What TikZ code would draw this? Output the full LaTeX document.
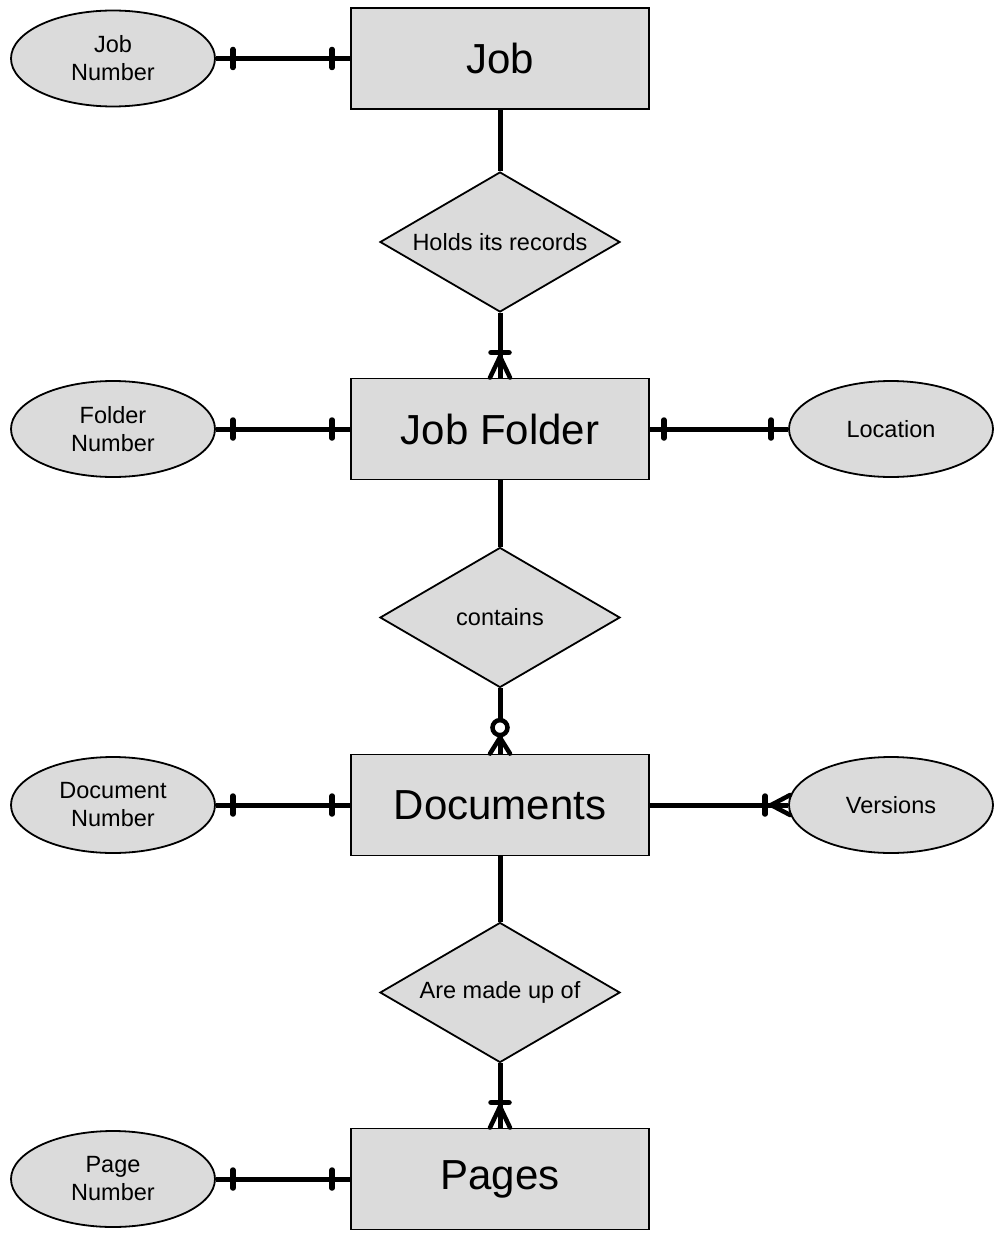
\documentclass[tikz,border=0pt]{standalone}
\usepackage{fontspec}
\setmainfont{Liberation Sans}
\usetikzlibrary{shapes.geometric,calc}
\begin{document}
\begin{tikzpicture}[x=1pt,y=-1pt,
 entity/.style={draw=black,line width=1.8pt,fill=black!14,minimum width=298pt,minimum height=101pt,inner sep=0pt,font=\fontsize{42}{50}\selectfont},
 attr/.style={ellipse,draw=black,line width=1.8pt,fill=black!14,minimum width=204pt,minimum height=96pt,inner sep=0pt,align=center,font=\fontsize{23.5}{28}\selectfont},
 rel/.style={diamond,draw=black,line width=1.8pt,fill=black!14,minimum width=240pt,minimum height=140pt,inner sep=0pt,aspect=1.714,font=\fontsize{23.5}{28}\selectfont},
 conn/.style={line width=5pt},
 tickmark/.style={line width=5.5pt,line cap=round},
 foot/.style={line width=4.5pt,line cap=round}]
\path[use as bounding box] (0,0) rectangle (994,1233);

% entities
\node[entity] (job) at (500,58.5) {Job};
\node[entity] (jf) at (500,429) {Job Folder};
\node[entity] (doc) at (500,805) {Documents};
\node[entity] (pg) at (500,1179) {Pages};

% relationships
\node[rel] (r1) at (500,242) {Holds its records};
\node[rel] (r2) at (500,617.5) {contains};
\node[rel] (r3) at (500,992.5) {Are made up of};

% attributes
\node[attr] (jn) at (113,58.5) {Job\\Number};
\node[attr] (fn) at (113,429) {Folder\\Number};
\node[attr] (loc) at (891,429) {Location};
\node[attr] (dn) at (113,805) {Document\\Number};
\node[attr] (ver) at (891,805) {Versions};
\node[attr] (pn) at (113,1179) {Page\\Number};

% attribute connectors (one-to-one)
\foreach \a/\e in {jn/job,fn/jf,dn/doc,pn/pg}{
  \draw[conn] (\a.east) -- (\e.west);
  \draw[tickmark] ($(\a.east)+(17,-9)$) -- ($(\a.east)+(17,9)$);
  \draw[tickmark] ($(\e.west)+(-18,-9)$) -- ($(\e.west)+(-18,9)$);
}
\draw[conn] (jf.east) -- (loc.west);
\draw[tickmark] ($(jf.east)+(14,-9)$) -- ($(jf.east)+(14,9)$);
\draw[tickmark] ($(loc.west)+(-17,-9)$) -- ($(loc.west)+(-17,9)$);

% Documents -- Versions (one-to-many)
\draw[conn] (doc.east) -- (ver.west);
\draw[tickmark] ($(ver.west)+(-23,-9)$) -- ($(ver.west)+(-23,9)$);
\draw[foot] ($(ver.west)+(-17,0)$) -- ($(ver.west)+(2,-10)$);
\draw[foot] ($(ver.west)+(-17,0)$) -- ($(ver.west)+(2,10)$);

% Job -- Holds its records -- Job Folder
\draw[conn] (job.south) -- (r1.north);
\draw[conn] (r1.south) -- (jf.north);
\draw[tickmark] ($(jf.north)+(-9,-25)$) -- ($(jf.north)+(9,-25)$);
\draw[foot] ($(jf.north)+(0,-21)$) -- ($(jf.north)+(-10,0)$);
\draw[foot] ($(jf.north)+(0,-21)$) -- ($(jf.north)+(10,0)$);

% Job Folder -- contains -- Documents
\draw[conn] (jf.south) -- (r2.north);
\draw[conn] (r2.south) -- (doc.north);
\draw[foot] ($(doc.north)+(0,-16)$) -- ($(doc.north)+(-10,0)$);
\draw[foot] ($(doc.north)+(0,-16)$) -- ($(doc.north)+(10,0)$);
\draw[line width=4.5pt,fill=white] ($(doc.north)+(0,-26)$) circle (7.5pt);

% Documents -- Are made up of -- Pages
\draw[conn] (doc.south) -- (r3.north);
\draw[conn] (r3.south) -- (pg.north);
\draw[tickmark] ($(pg.north)+(-9,-25)$) -- ($(pg.north)+(9,-25)$);
\draw[foot] ($(pg.north)+(0,-21)$) -- ($(pg.north)+(-10,0)$);
\draw[foot] ($(pg.north)+(0,-21)$) -- ($(pg.north)+(10,0)$);
\end{tikzpicture}
\end{document}
